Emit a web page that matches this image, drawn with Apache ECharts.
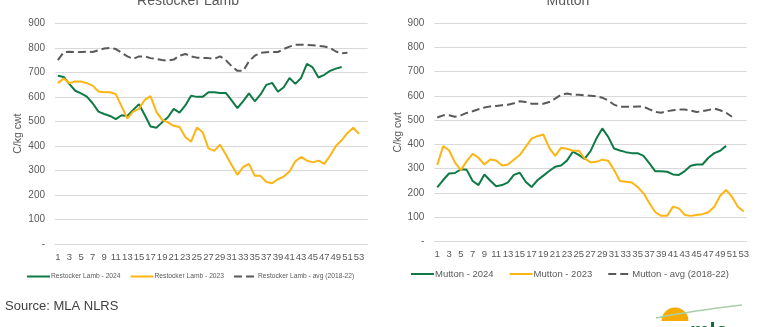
<!DOCTYPE html>
<html>
<head>
<meta charset="utf-8">
<script src="https://cdn.jsdelivr.net/npm/echarts@6/dist/echarts.min.js"></script>
<style>
html,body{margin:0;padding:0;background:#fff;}
#c{width:776px;height:327px;}
</style>
</head>
<body>
<div id="c"></div>
<script>
// ---- categories (week numbers) ----
const weeksLamb = [1,2,3,4,5,6,7,8,9,10,11,12,13,14,15,16,17,18,19,20,21,22,23,24,25,26,27,28,29,30,31,32,33,34,35,36,37,38,39,40,41,42,43,44,45,46,47,48,49,50,51,52,53,54];
const weeksMutton = [1,2,3,4,5,6,7,8,9,10,11,12,13,14,15,16,17,18,19,20,21,22,23,24,25,26,27,28,29,30,31,32,33,34,35,36,37,38,39,40,41,42,43,44,45,46,47,48,49,50,51,52,53];

// ---- Restocker Lamb (c/kg cwt) ----
const lamb2024 = [686,681,652,625,614,601,574,540,530,522,
                  509,525,522,547,570,526,479,474,496,517,
                  551,536,565,605,600,600,619,619,616,616,
                  586,554,583,614,582,610,649,657,621,639,
                  677,653,677,735,720,679,690,706,715,722];
const lamb2023 = [656,675,656,663,663,656,646,622,619,619,
                  611,561,512,540,551,588,603,540,506,496,
                  482,477,436,417,475,456,390,380,405,365,
                  322,282,314,327,278,278,253,248,264,275,
                  296,337,355,340,333,340,327,360,400,423,
                  453,474,449];
const lambAvg = [750,782,784,782,783,784,783,790,797,800,
                 795,780,765,755,765,765,758,755,750,748,
                 752,768,775,765,760,758,758,755,765,750,
                 725,706,706,745,768,780,782,783,783,795,
                 805,812,813,812,810,808,805,800,785,778,
                 780];

// ---- Mutton (c/kg cwt) ----
const mutton2024 = [223,253,280,282,297,295,249,232,276,250,
                    227,232,243,274,283,246,224,252,271,290,
                    308,313,333,370,357,340,372,424,466,431,
                    383,375,368,364,364,353,322,289,289,287,
                    276,274,290,312,317,317,345,364,374,394];
const mutton2023 = [315,393,376,326,294,331,361,345,317,338,
                    334,313,317,337,356,390,424,434,441,386,
                    353,386,382,374,374,342,326,328,337,333,
                    294,249,246,243,224,198,157,120,105,105,
                    143,136,109,105,109,112,120,143,188,212,
                    184,143,123];
const muttonAvg = [511,520,520,514,520,530,537,545,552,557,
                   559,562,564,570,578,575,568,568,568,575,
                   589,605,610,605,605,603,601,599,593,582,
                   564,555,555,555,557,556,545,534,531,537,
                   541,544,544,540,534,537,542,548,541,531,
                   514];

const names = {
  l24:'Restocker Lamb - 2024', l23:'Restocker Lamb - 2023', lav:'Restocker Lamb - avg (2018-22)',
  m24:'Mutton - 2024', m23:'Mutton - 2023', mav:'Mutton - avg (2018-22)'
};

const GREEN = '#0f7a46', ORANGE = '#fdb515', GREY = '#595959', TXT = '#595959';
const FONT = '"Liberation Sans", Arial, sans-serif';

const chart = echarts.init(document.getElementById('c'), null, {renderer:'canvas'});

function yAx(gridIndex, nameGap){
  return {
    gridIndex, type:'value', min:0, max:900, interval:100,
    name:'C/kg cwt', nameLocation:'middle', nameGap, nameRotate:90,
    nameTextStyle:{color:TXT, fontSize:10.5, fontFamily:FONT},
    axisLine:{show:false}, axisTick:{show:false},
    axisLabel:{color:TXT, fontSize:10, fontFamily:FONT, margin:10,
      formatter:v => v===0 ? '-' : String(v)},
    splitLine:{lineStyle:{color:'#d9d9d9', width:1}}
  };
}
function xAx(gridIndex, data){
  return {
    gridIndex, type:'category', data, boundaryGap:true,
    axisLine:{show:true, lineStyle:{color:'#d9d9d9'}}, axisTick:{show:false},
    axisLabel:{color:TXT, fontSize:9.5, fontFamily:FONT, interval:1, margin:8}
  };
}
function ln(name, data, xi, color, dashed){
  return {
    name, type:'line', xAxisIndex:xi, yAxisIndex:xi, data,
    symbol:'none', showSymbol:false, smooth:false, animation:false,
    lineStyle:{color, width:2, type: dashed ? [8,4] : 'solid'},
    itemStyle:{color}
  };
}

const legendCommon = {
  itemWidth:23, itemStyle:{color:'rgba(0,0,0,0)', borderWidth:0, borderColor:'rgba(0,0,0,0)'}
};

chart.setOption({
  animation:false,
  backgroundColor:'#fff',
  grid:[
    {left:55, right:408.3, top:23.3, bottom:83},
    {left:434.3, right:29.3, top:23.3, bottom:85.7}
  ],
  xAxis:[xAx(0, weeksLamb), xAx(1, weeksMutton)],
  yAxis:[yAx(0, 31), yAx(1, 29)],
  legend:[
    Object.assign({left:21, top:268, itemHeight:8, itemGap:9,
     textStyle:{color:TXT, fontSize:6.7, fontFamily:FONT, padding:[0,0,0,-4]},
     data:[names.l24, names.l23, names.lav]}, legendCommon),
    Object.assign({left:405, top:264, itemHeight:10, itemGap:15,
     textStyle:{color:TXT, fontSize:9.5, fontFamily:FONT, padding:[0,0,0,-4]},
     data:[names.m24, names.m23, names.mav]}, legendCommon)
  ],
  series:[
    ln(names.l24, lamb2024, 0, GREEN, false),
    ln(names.l23, lamb2023, 0, ORANGE, false),
    ln(names.lav, lambAvg, 0, GREY, true),
    ln(names.m24, mutton2024, 1, GREEN, false),
    ln(names.m23, mutton2023, 1, ORANGE, false),
    ln(names.mav, muttonAvg, 1, GREY, true)
  ],
  graphic:[
    {type:'text', x:188, y:1.5, style:{text:'Restocker Lamb', fill:TXT, font:'14px '+FONT, textAlign:'center', textVerticalAlign:'middle'}},
    {type:'text', x:568, y:1.5, style:{text:'Mutton', fill:TXT, font:'14px '+FONT, textAlign:'center', textVerticalAlign:'middle'}},
    {type:'text', x:5, y:306.5, style:{text:'Source: MLA NLRS', fill:'#404040', font:'13px '+FONT, textAlign:'left', textVerticalAlign:'middle'}},
    {type:'sector', shape:{cx:675, cy:321, r0:0, r:13.5, startAngle:Math.PI, endAngle:2*Math.PI}, style:{fill:'#f7ab00'}},
    {type:'bezierCurve', shape:{x1:656, y1:318, cpx1:690, cpy1:311, x2:742, y2:305}, style:{stroke:'#a9cfa9', lineWidth:1.5, fill:null}},
    {type:'text', x:690, y:321, style:{text:'mla', fill:'#0b6b3a', font:'bold 22px '+FONT, textAlign:'left', textVerticalAlign:'top'}}
  ]
});
</script>
</body>
</html>
